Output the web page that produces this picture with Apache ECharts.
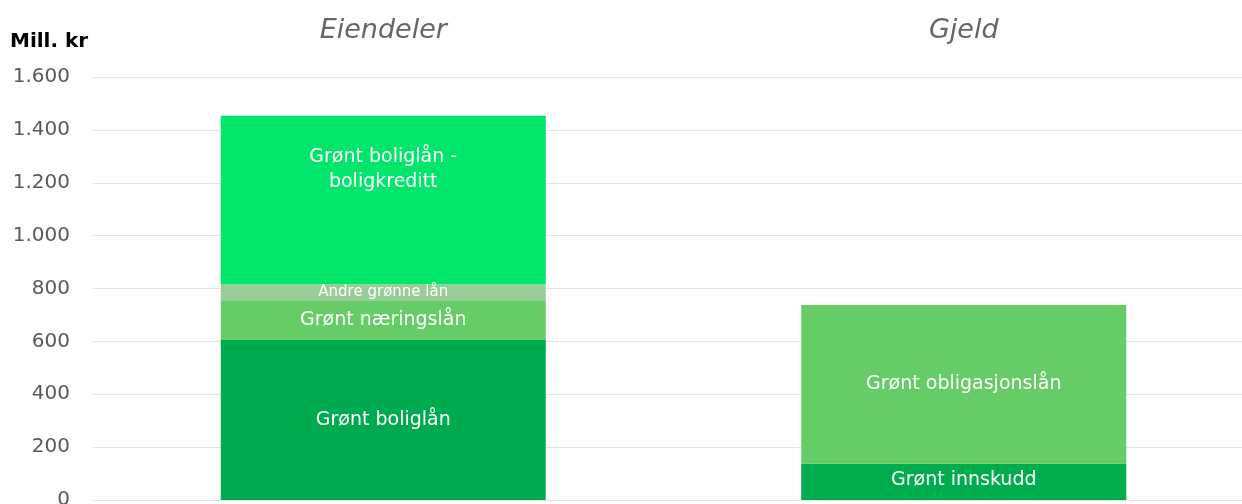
<!DOCTYPE html>
<html><head><meta charset="utf-8">
<script src="https://cdn.jsdelivr.net/npm/echarts@6/dist/echarts.min.js"></script>
<style>html,body{margin:0;padding:0;background:#fff}#c{width:1242px;height:504px}</style>
</head><body><div id="c"></div>
<script>
const categories = ['Eiendeler', 'Gjeld'];
const yTicks = [0, 200, 400, 600, 800, 1000, 1200, 1400, 1600];
const grontBoliglan = [605, null];
const grontNaeringslan = [151, null];
const andreGronneLan = [60, null];
const boligkreditt = [637, null];
const grontInnskudd = [null, 138];
const obligasjonslan = [null, 600];

const FONT = '"DejaVu Sans", "Noto Sans", sans-serif';
const chart = echarts.init(document.getElementById('c'));
function ser(name, data, color, fontSize, extra) {
  return Object.assign({
    name, type: 'bar', stack: 'a', data, barWidth: 325,
    itemStyle: { color },
    label: { show: true, position: 'inside', formatter: name, color: '#fff', fontSize, fontFamily: FONT },
    emphasis: { disabled: true }
  }, extra || {});
}
chart.setOption({
  animation: false,
  grid: { left: 93, right: -12, top: 77, bottom: 4, outerBoundsMode: 'none', containLabel: false },
  graphic: [{ type: 'text', left: 10, top: 32, style: { text: 'Mill. kr', font: 'bold 20px ' + FONT, fill: '#000' } }],
  xAxis: {
    type: 'category', data: categories, position: 'top',
    axisLine: { show: false }, axisTick: { show: false },
    axisLabel: { fontSize: 27, fontStyle: 'italic', color: '#666', fontFamily: FONT, margin: 33 }
  },
  yAxis: {
    type: 'value', min: yTicks[0], max: yTicks[yTicks.length - 1], interval: 200,
    axisLine: { show: false }, axisTick: { show: false },
    axisLabel: { fontSize: 20, color: '#5a5a5a', fontFamily: FONT, margin: 23,
      formatter: v => v.toLocaleString('de-DE') },
    splitLine: { lineStyle: { color: '#e3e3e3', width: 1 } }
  },
  series: [
    ser('Grønt boliglån', grontBoliglan, '#00AA4F', 19),
    ser('Grønt næringslån', grontNaeringslan, '#66CC66', 19),
    ser('Andre grønne lån', andreGronneLan, '#99CC99', 15),
    ser('Grønt boliglån -\nboligkreditt', boligkreditt, '#00E66A', 19, {
      label: { show: true, position: 'insideTop', distance: 29, formatter: 'Grønt boliglån -\nboligkreditt', color: '#fff', fontSize: 19, lineHeight: 25, fontFamily: FONT } }),
    ser('Grønt innskudd', grontInnskudd, '#00AD4C', 19, {
      label: { show: true, position: 'inside', offset: [0, -2], formatter: 'Grønt innskudd', color: '#fff', fontSize: 19, fontFamily: FONT } }),
    ser('Grønt obligasjonslån', obligasjonslan, '#66CD66', 19)
  ]
});
</script></body></html>
